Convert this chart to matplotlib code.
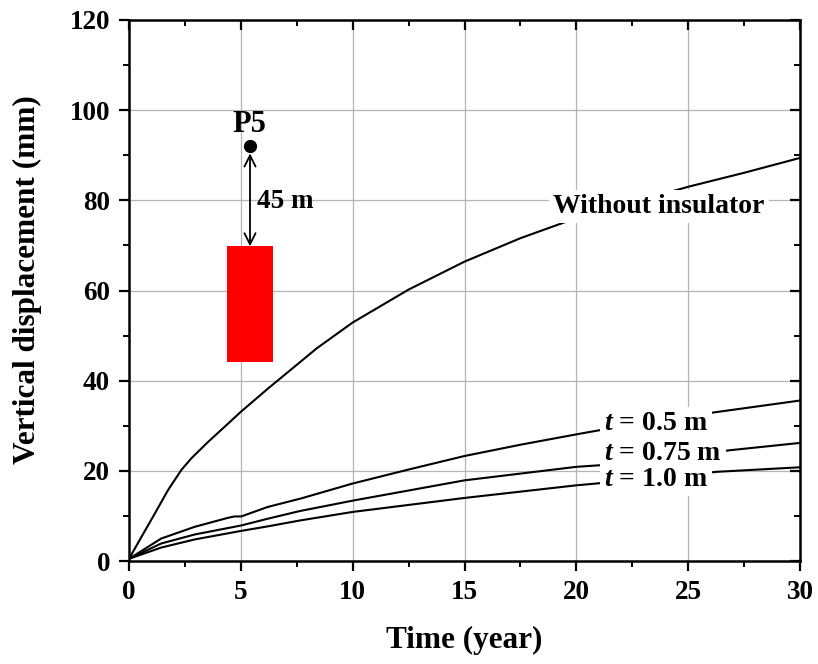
import matplotlib
matplotlib.use("Agg")
import matplotlib.pyplot as plt
from matplotlib.patches import Rectangle
from matplotlib.ticker import MultipleLocator

# Settlement histories (time in years, vertical displacement in mm)
years_none = [0, 0.55, 1.15, 1.74, 2.34, 2.79, 3.53, 4.28, 5.0, 6.2, 8.4, 10, 12.5, 15, 17.5, 19.8, 22.5, 25, 27.5, 30]
disp_none = [0.5, 5.3, 10.5, 15.7, 20.2, 22.8, 26.4, 29.8, 33.1, 38.2, 47.2, 52.9, 60.2, 66.4, 71.6, 75.7, 79.5, 83.0, 86.1, 89.4]

years_t050 = [0, 1.44, 2.94, 4.43, 4.72, 5.02, 6.2, 7.7, 10, 12.5, 15, 17.5, 20, 20.9, 22.5, 26.2, 30]
disp_t050 = [0.5, 5.0, 7.6, 9.6, 9.9, 9.9, 12.0, 13.9, 17.2, 20.3, 23.3, 25.8, 28.1, 28.9, 30.2, 33.0, 35.6]

years_t075 = [0, 1.44, 2.94, 5.02, 6.21, 7.64, 10, 15, 20, 21.5, 26.9, 30]
disp_t075 = [0.5, 3.9, 5.9, 7.9, 9.4, 11.1, 13.4, 17.9, 20.9, 21.4, 24.6, 26.2]

years_t100 = [0, 1.44, 2.94, 5.02, 6.21, 7.64, 10, 15, 20, 20.9, 26.3, 30]
disp_t100 = [0.5, 3.0, 4.8, 6.7, 7.7, 9.0, 10.9, 14.0, 16.8, 17.2, 19.8, 20.8]

x_ticks = [0, 5, 10, 15, 20, 25, 30]
y_ticks = [0, 20, 40, 60, 80, 100, 120]

plt.rcParams["font.family"] = ["Liberation Serif", "DejaVu Serif"]
plt.rcParams["font.weight"] = "bold"
plt.rcParams["mathtext.fontset"] = "custom"
plt.rcParams["mathtext.rm"] = "Liberation Serif:bold"
plt.rcParams["mathtext.it"] = "Liberation Serif:italic:bold"
plt.rcParams["mathtext.bf"] = "Liberation Serif:bold"
plt.rcParams["mathtext.bfit"] = "Liberation Serif:italic:bold"

fig = plt.figure(figsize=(8.18, 6.64), dpi=100)
ax = fig.add_axes([0.1577, 0.155, 0.8203, 0.815])

line_kw = dict(color="black", lw=1.5, zorder=3)
ax.plot(years_none, disp_none, **line_kw)
ax.plot(years_t050, disp_t050, **line_kw)
ax.plot(years_t075, disp_t075, **line_kw)
ax.plot(years_t100, disp_t100, **line_kw)

box = dict(facecolor="white", edgecolor="none", pad=3)
lab_kw = dict(fontsize=20, fontweight="bold", zorder=4, bbox=box, va="baseline")
ax.text(23.7, 77.2, "Without insulator", ha="center", **lab_kw)
ax.text(21.25, 29.0, r"$t$ = 0.5 m", ha="left", **lab_kw)
ax.text(21.25, 22.4, r"$t$ = 0.75 m", ha="left", **lab_kw)
ax.text(21.25, 16.6, r"$t$ = 1.0 m", ha="left", **lab_kw)

# Tunnel section and monitoring point P5
ax.add_patch(Rectangle((4.38, 44.2), 2.06, 25.6, facecolor="#ff0000", edgecolor="none", zorder=3))
ax.plot([5.41], [92.0], "o", color="black", ms=8.5, zorder=5)
ax.annotate("", xy=(5.41, 90.4), xytext=(5.41, 69.8),
            arrowprops=dict(arrowstyle="<->", color="black", lw=1.3,
                            shrinkA=0, shrinkB=0, mutation_scale=20), zorder=4)
ax.text(5.38, 95.2, "P5", ha="center", va="baseline", fontsize=22, fontweight="bold")
ax.text(5.71, 78.3, "45 m", ha="left", va="baseline", fontsize=19.5, fontweight="bold")

ax.set_xlim(0, 30)
ax.set_ylim(0, 120)
ax.set_xticks(x_ticks)
ax.set_yticks(y_ticks)
ax.set_xticklabels([str(v) for v in x_ticks])
ax.set_yticklabels([str(v) for v in y_ticks])
ax.xaxis.set_minor_locator(MultipleLocator(2.5))
ax.yaxis.set_minor_locator(MultipleLocator(10))

ax.grid(True, which="major", color="#b4b4b4", lw=0.9, zorder=0)
ax.set_axisbelow(True)

for sp in ax.spines.values():
    sp.set_linewidth(1.8)

ax.tick_params(axis="both", which="major", direction="out", length=7.5, width=1.6,
               labelsize=19.5, pad=6)
ax.tick_params(axis="both", which="minor", direction="out", length=4, width=1.4)
ax.tick_params(which="both", top=True, right=True)
ax.tick_params(axis="x", which="both", labeltop=False)
ax.tick_params(axis="y", which="both", labelright=False)
# inner ticks on the top and right spines
for t in ax.xaxis.get_major_ticks() + ax.xaxis.get_minor_ticks():
    t.tick2line.set_marker(matplotlib.lines.TICKDOWN)
for t in ax.yaxis.get_major_ticks() + ax.yaxis.get_minor_ticks():
    t.tick2line.set_marker(matplotlib.lines.TICKLEFT)

for lbl in ax.get_xticklabels() + ax.get_yticklabels():
    lbl.set_fontweight("bold")

ax.set_xlabel("Time (year)", fontsize=22.5, fontweight="bold", labelpad=15)
ax.set_ylabel("Vertical displacement (mm)", fontsize=22.5, fontweight="bold", labelpad=20)
ax.yaxis.set_label_coords(-0.13, 0.52)

fig.savefig("out.png", dpi=100)
